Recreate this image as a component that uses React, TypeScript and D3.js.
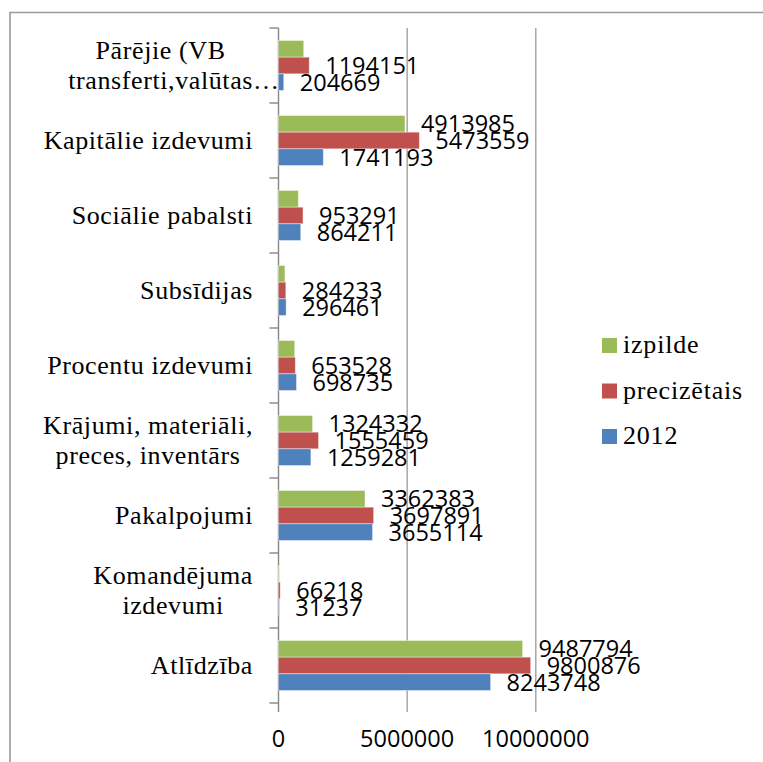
import React, { useEffect, useRef } from "react";
import * as d3 from "d3";

// categories, bottom to top as in the source chart
const categories = [
  "Atlīdzība",
  "Komandējuma\nizdevumi",
  "Pakalpojumi",
  "Krājumi, materiāli,\npreces, inventārs",
  "Procentu izdevumi",
  "Subsīdijas",
  "Sociālie pabalsti",
  "Kapitālie izdevumi",
  "Pārējie (VB\ntransferti,valūtas…",
];

const values2012 = [8243748, 31237, 3655114, 1259281, 698735, 296461, 864211, 1741193, 204669];
const valuesPrec = [9800876, 66218, 3697891, 1555459, 653528, 284233, 953291, 5473559, 1194151];
const valuesIzp = [9487794, 20000, 3362383, 1324332, 630000, 250000, 770000, 4913985, 980000];
// izpilde labels that are visible in the picture
const izpLabelShown = [true, false, true, true, false, false, false, true, false];

const xTicks = [0, 5000000, 10000000];

const series = [
  { key: "izpilde", color: "#9BBB59", values: valuesIzp, shown: izpLabelShown },
  { key: "precizētais", color: "#C0504D", values: valuesPrec, shown: valuesPrec.map(() => true) },
  { key: "2012", color: "#4F81BD", values: values2012, shown: values2012.map(() => true) },
];

const width = 763;
const height = 762;
const plot = { left: 278.5, right: 535.8, top: 28, bottom: 703 };
const serif = "'Liberation Serif', 'Times New Roman', serif";
const sans = "'Open Sans', 'Liberation Sans', sans-serif";

export default function App() {
  const ref = useRef<SVGSVGElement>(null);

  useEffect(() => {
    const svg = d3.select(ref.current);
    svg.selectAll("*").remove();

    const x = d3.scaleLinear().domain([0, 10000000]).range([plot.left, plot.right]);
    const y = d3
      .scaleBand()
      .domain([...categories].reverse())
      .range([plot.top, plot.bottom])
      .padding(0);
    const y1 = d3
      .scaleBand()
      .domain(series.map((s) => s.key))
      .range([0, y.bandwidth()])
      .paddingInner(0)
      .paddingOuter(0.75);

    // outer frame
    svg
      .append("path")
      .attr("d", `M10,${height} V12.5 H${width}`)
      .attr("fill", "none")
      .attr("stroke", "#9a9a9a")
      .attr("stroke-width", 1.6);

    // gridlines + bottom ticks
    svg
      .append("g")
      .selectAll("line")
      .data(xTicks)
      .join("line")
      .attr("x1", (d) => x(d))
      .attr("x2", (d) => x(d))
      .attr("y1", plot.top)
      .attr("y2", plot.bottom + 9)
      .attr("stroke", (d) => (d === 0 ? "#868686" : "#a0a0a0"))
      .attr("stroke-width", 1.4);

    // category ticks
    const bounds = [plot.top, ...y.domain().map((c) => (y(c) as number) + y.bandwidth())];
    svg
      .append("g")
      .selectAll("line")
      .data(bounds)
      .join("line")
      .attr("x1", plot.left - 9)
      .attr("x2", plot.left)
      .attr("y1", (d) => d)
      .attr("y2", (d) => d)
      .attr("stroke", "#868686")
      .attr("stroke-width", 1.4);

    // bars
    series.forEach((s) => {
      const g = svg.append("g");
      g.selectAll("rect")
        .data(categories.map((c, i) => ({ c, v: s.values[i] })))
        .join("rect")
        .attr("x", x(0))
        .attr("y", (d) => (y(d.c) as number) + (y1(s.key) as number))
        .attr("width", (d) => x(d.v) - x(0))
        .attr("height", y1.bandwidth())
        .attr("fill", s.color)
        .attr("stroke", "rgba(255,255,255,0.5)")
        .attr("stroke-width", 0.8);
    });

    // data labels
    series.forEach((s) => {
      svg
        .append("g")
        .selectAll("text")
        .data(
          categories
            .map((c, i) => ({ c, v: s.values[i], show: s.shown[i] }))
            .filter((d) => d.show)
        )
        .join("text")
        .attr("x", (d) => x(d.v) + 16)
        .attr("y", (d) => (y(d.c) as number) + (y1(s.key) as number) + y1.bandwidth() / 2)
        .attr("dy", "0.36em")
        .attr("font-family", sans)
        .attr("font-size", 23.5)
        .attr("fill", "#000")
        .text((d) => String(d.v));
    });

    // category labels (lines centred inside a right-aligned block)
    const labelRight = 253;
    const lineH = 30;
    categories.forEach((c) => {
      const lines = c.split("\n");
      const cy = (y(c) as number) + y.bandwidth() / 2;
      const g = svg.append("g");
      const texts = lines.map((ln, i) =>
        g
          .append("text")
          .attr("y", cy + (i - (lines.length - 1) / 2) * lineH + 8.5)
          .attr("font-family", serif)
          .attr("font-size", 26)
          .attr("letter-spacing", 0.6)
          .attr("fill", "#000")
          .text(ln.replace(/…$/, ""))
      );
      const widths = texts.map((t) => (t.node() as SVGTextElement).getComputedTextLength());
      const maxW = Math.max(...widths);
      const cx = labelRight - maxW / 2;
      texts.forEach((t, i) => {
        const w = widths[i];
        t.attr("x", cx - w / 2).text(lines[i]);
      });
    });

    // x tick labels
    svg
      .append("g")
      .selectAll("text")
      .data(xTicks)
      .join("text")
      .attr("x", (d) => x(d))
      .attr("y", 747)
      .attr("text-anchor", "middle")
      .attr("font-family", sans)
      .attr("font-size", 23.5)
      .attr("fill", "#000")
      .text((d) => String(d));

    // legend
    const legend = svg.append("g");
    series.forEach((s, i) => {
      const ly = 338 + i * 45.5;
      legend
        .append("rect")
        .attr("x", 602)
        .attr("y", ly)
        .attr("width", 15)
        .attr("height", 15)
        .attr("fill", s.color);
      legend
        .append("text")
        .attr("x", 623)
        .attr("y", ly + 15)
        .attr("font-family", serif)
        .attr("font-size", 26)
        .attr("letter-spacing", 0.8)
        .attr("fill", "#000")
        .text(s.key);
    });
  }, []);

  return (
    <svg
      ref={ref}
      width={width}
      height={height}
      style={{ position: "absolute", left: 0, top: 0, background: "#fff" }}
    />
  );
}
